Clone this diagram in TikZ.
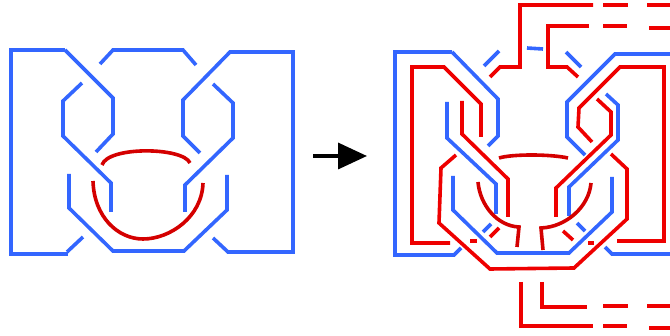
\documentclass[tikz,border=0pt]{standalone}
\usetikzlibrary{arrows.meta}
\definecolor{bl}{HTML}{3366FF}
\definecolor{rd}{HTML}{EE0000}
\definecolor{dk}{HTML}{D40000}
\tikzset{
 bluestrand/.style={draw=bl,line width=3.6pt,line join=miter},
 redstrand/.style={draw=rd,line width=3.6pt,line join=miter},
 arcstrand/.style={draw=dk,line width=3.6pt},
}
\begin{document}
\begin{tikzpicture}[x=1pt,y=-1pt]
\useasboundingbox (0,0) rectangle (670,336);
% left figure
\path[bluestrand] (65,50)--(11,50)--(11,254)--(68,254);
\path[bluestrand] (67,252)--(83,237);
\path[bluestrand] (65,50)--(113,98)--(113,134)--(96,152);
\path[bluestrand] (100,64)--(113,50)--(183,50)--(196,65);
\path[bluestrand] (82,83)--(63,101)--(63,136)--(111,183)--(111,212);
\path[bluestrand] (200,153)--(183,136)--(183,100)--(230,52)--(293,52)--(293,252)--(228,252)--(213,238);
\path[bluestrand] (213,84)--(233,103)--(233,138)--(185,185)--(185,212);
\path[bluestrand] (69,174)--(69,208)--(113,251)--(184,251)--(227,210)--(227,175);
\path[arcstrand] (102,165) .. controls (108,146) and (183,147) .. (190,163);
\path[arcstrand] (93,181) .. controls (94,217) and (118,239) .. (143,239) .. controls (170,239) and (202,217) .. (203,183);
% arrow
\draw[line width=3.5pt,-{Triangle[length=29pt,width=26pt]}] (313,156)--(367,156);
% right figure blue
\path[bluestrand] (452,52)--(395,52)--(395,255)--(454,255)--(461,248);
\path[bluestrand] (452,52)--(498,99)--(498,136)--(488,146);
\path[bluestrand] (484,66)--(499,51);
\path[bluestrand] (527,48)--(543,49);
\path[bluestrand] (566,52)--(581,67);
\path[bluestrand] (670,54)--(615,54)--(567,102)--(567,137)--(585,155);
\path[bluestrand] (606,94)--(618,105)--(618,140)--(569,187)--(569,216);
\path[bluestrand] (447,102)--(447,138)--(496,184)--(496,214);
\path[bluestrand] (453,176)--(453,210)--(497,253)--(569,253)--(612,212)--(612,177);
\path[bluestrand] (483,232)--(491,224);
\path[bluestrand] (577,223)--(585,231);
\path[bluestrand] (605,247)--(612,254)--(670,254);
% right figure red
\path[redstrand] (450,243)--(412,243)--(412,67)--(444,67)--(481,104)--(481,137);
\path[redstrand] (462,101)--(462,134)--(508,179)--(508,217);
\path[redstrand] (456,155)--(441,168)--(439,223)--(490,269)--(574,268)--(627,219)--(627,169)--(611,154);
\path[redstrand] (470,241)--(477,241);
\path[redstrand] (490,237)--(499,228);
\path[redstrand] (563,231)--(573,240);
\path[redstrand] (588,243)--(594,243);
\path[redstrand] (617,241)--(664,241)--(664,67)--(620,67)--(579,108)--(578,127)--(592,142);
\path[redstrand] (597,99)--(611,112)--(611,135)--(556,188)--(556,217);
\path[redstrand] (490,77)--(500,67)--(520,67)--(520,5)--(593,5);
\path[redstrand] (603,5)--(628,5);
\path[redstrand] (647,5)--(670,5);
\path[redstrand] (589,26)--(546,26);
\path[redstrand] (548,26)--(548,67)--(567,67)--(578,77);
\path[redstrand] (603,26)--(627,26);
\path[redstrand] (649,28)--(670,28);
\path[redstrand] (521,282)--(521,326)--(593,326);
\path[redstrand] (603,326)--(627,326);
\path[redstrand] (649,328)--(670,328);
\path[redstrand] (542,282)--(542,307)--(587,307);
\path[redstrand] (603,306)--(628,306);
\path[redstrand] (647,306)--(670,306);
% right arcs
\path[arcstrand] (499,158) .. controls (512,154) and (550,154) .. (568,158);
\path[arcstrand] (478,182) .. controls (480,205) and (497,226) .. (519,227) -- (517,247);
\path[arcstrand] (591,183) .. controls (589,207) and (566,227) .. (541,228) -- (543,250);
\end{tikzpicture}
\end{document}
